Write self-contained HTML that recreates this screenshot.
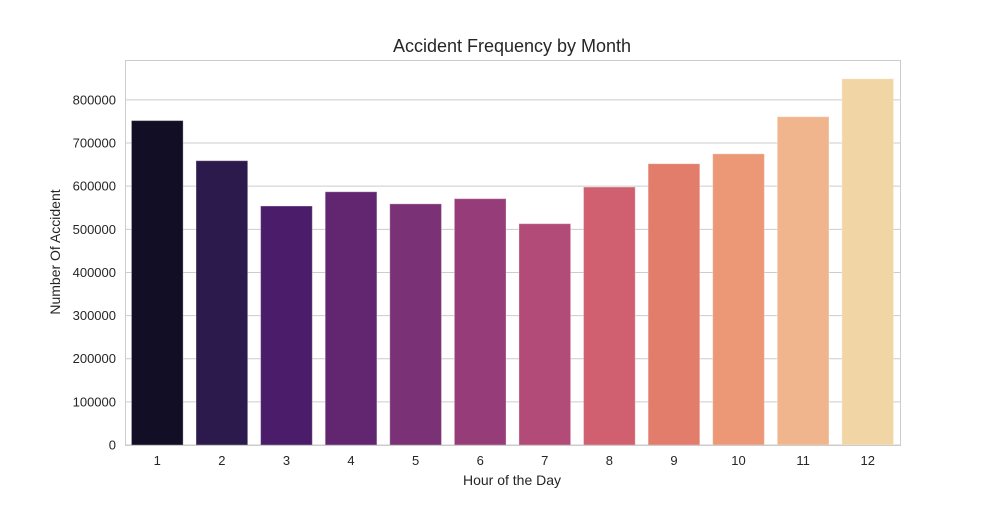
<!DOCTYPE html>
<html><head><meta charset="utf-8"><style>
body{margin:0;background:#fff;font-family:"Liberation Sans",Arial,sans-serif}
</style></head><body>
<svg id="chart" width="1000" height="500" xmlns="http://www.w3.org/2000/svg" font-family="Liberation Sans, Arial, sans-serif"></svg>
<script>
const categories=["1","2","3","4","5","6","7","8","9","10","11","12"];
const values=[752000,659000,554000,587000,559000,571000,513000,598000,652000,675000,761000,849000];
const colors=["#120e26","#2c1a4d","#4a1c69","#622570","#7b3176","#963d79","#b24b77","#d06070","#e27d6c","#ec9877","#f0b58d","#f2d5a5"];
const yTicks=[0,100000,200000,300000,400000,500000,600000,700000,800000];
const L=125,R=900,T=60,B=445,yMax=892500;
const NS="http://www.w3.org/2000/svg";
const svg=document.getElementById('chart');
const y=v=>B-(v/yMax)*(B-T);
const slot=(R-L)/categories.length;
const x=i=>L+slot*i+slot/2;
function mk(tag,attrs,txt){const e=document.createElementNS(NS,tag);for(const k in attrs)e.setAttribute(k,attrs[k]);if(txt!==undefined)e.textContent=txt;svg.appendChild(e);return e;}
yTicks.forEach(t=>{
 const g=mk('line',{x1:L,x2:R,y1:y(t),y2:y(t),stroke:'#cccccc','stroke-width':1});
 
 
 const l=mk('text',{x:L-9,y:y(t)+4.5,'text-anchor':'end','font-size':13,fill:'#262626'},String(t));
 
 
});
values.forEach((v,i)=>{
 const w=slot*0.8;
 const r=mk('rect',{x:x(i)-w/2,y:y(v),width:w,height:B-y(v),fill:colors[i],stroke:'#ffffff','stroke-opacity':0.3});
 
 
 const l=mk('text',{x:x(i),y:B+20,'text-anchor':'middle','font-size':13,fill:'#262626'},categories[i]);
 
 
});
const f=mk('rect',{x:L+0.5,y:T+0.5,width:R-L,height:B-T,fill:'none',stroke:'#cccccc','stroke-width':1});


const t=mk('text',{x:512,y:52,'text-anchor':'middle','font-size':18,fill:'#262626'},'Accident Frequency by Month');


const xt=mk('text',{x:512,y:485,'text-anchor':'middle','font-size':14,fill:'#262626'},'Hour of the Day');


const yt=mk('text',{x:0,y:0,'text-anchor':'middle','font-size':14,fill:'#262626',transform:'translate(60,252) rotate(-90)'},'Number Of Accident');


</script>
</body></html>
